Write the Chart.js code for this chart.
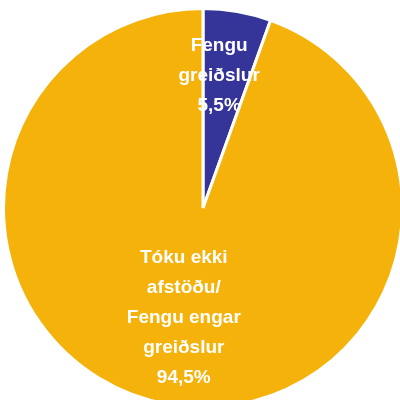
<!DOCTYPE html>
<html>
<head>
<meta charset="utf-8">
<script src="https://cdn.jsdelivr.net/npm/chart.js@4"></script>
<style>
  html, body { margin: 0; padding: 0; background: #fff; overflow: hidden; }
  #wrap { position: relative; width: 410px; height: 420px; }
</style>
</head>
<body>
<div id="wrap"><canvas id="pie"></canvas></div>
<script>
// slices, clockwise from the top
const categories = [
  ['Fengu', 'greiðslur'],
  ['Tóku ekki', 'afstöðu/', 'Fengu engar', 'greiðslur']
];
const shares = [5.5, 94.5];
const sliceColors = ['#343499', '#F5B20A'];

// where the labels sit inside each slice (fraction of radius, small x nudge)
const labelPlace = [{r: 0.675, dx: -7}, {r: 0.56, dx: 0}];

const fmtPct = v => v.toFixed(1).replace('.', ',') + '%';

// draws the white multi-line labels in each slice
const sliceLabels = {
  id: 'sliceLabels',
  afterDatasetsDraw(chart) {
    const ctx = chart.ctx;
    const meta = chart.getDatasetMeta(0);
    ctx.save();
    ctx.fillStyle = '#fff';
    ctx.font = 'bold 19px "Liberation Sans", Arial, sans-serif';
    ctx.textAlign = 'center';
    ctx.textBaseline = 'middle';
    meta.data.forEach((arc, i) => {
      const p = arc.getProps(['x', 'y', 'startAngle', 'endAngle', 'outerRadius'], true);
      const mid = (p.startAngle + p.endAngle) / 2;
      const cx = p.x + Math.cos(mid) * p.outerRadius * labelPlace[i].r + labelPlace[i].dx;
      const cy = p.y + Math.sin(mid) * p.outerRadius * labelPlace[i].r;
      const lines = categories[i].concat([fmtPct(shares[i])]);
      const lh = 30;
      const top = cy - (lines.length - 1) * lh / 2;
      lines.forEach((t, k) => ctx.fillText(t, cx, top + k * lh));
    });
    ctx.restore();
  }
};

new Chart(document.getElementById('pie'), {
  type: 'pie',
  data: {
    labels: categories.map(c => c.join(' ')),
    datasets: [{
      data: shares,
      backgroundColor: sliceColors,
      borderColor: '#fff',
      borderWidth: 3
    }]
  },
  options: {
    responsive: true,
    maintainAspectRatio: false,
    animation: false,
    layout: { padding: { left: 2, right: 6, top: 7, bottom: 11 } },
    plugins: {
      legend: { display: false },
      tooltip: { enabled: false }
    }
  },
  plugins: [sliceLabels]
});
</script>
</body>
</html>
